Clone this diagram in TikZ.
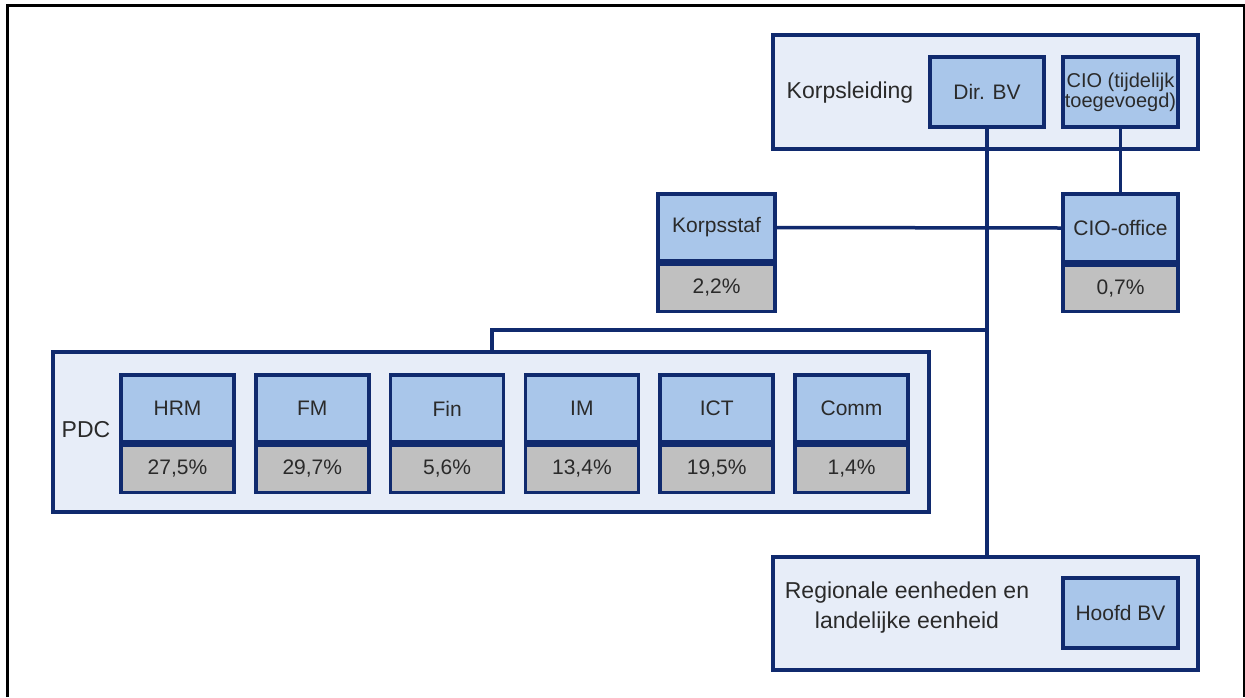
\documentclass[tikz,border=0pt]{standalone}
\usepackage{fontspec}
\setmainfont{Liberation Sans}
\definecolor{navy}{HTML}{102A6E}
\definecolor{lblue}{HTML}{A9C6EA}
\definecolor{pgray}{HTML}{C0C0C0}
\definecolor{cfill}{HTML}{E7EDF8}
\definecolor{txt}{HTML}{2A2A2A}
\tikzset{
  container/.style={draw=navy, line width=3.5pt, fill=cfill, inner sep=0pt},
  unitbox/.style={draw=navy, line width=3.5pt, fill=lblue, inner sep=0pt, text=txt, align=center,
    font=\fontsize{21}{22}\selectfont},
  pctbox/.style={draw=navy, line width=3.5pt, fill=pgray, inner sep=0pt, text=txt,
    font=\fontsize{21}{22}\selectfont},
  lbl/.style={text=txt, align=center, inner sep=0pt, font=\fontsize{23}{30}\selectfont},
  conn/.style={draw=navy, line width=3.5pt}
}
\begin{document}
\begin{tikzpicture}[x=1pt,y=-1pt]
\useasboundingbox[fill=white] (0,0) rectangle (1245,697);
\draw[black, line width=3pt] (7.5,697) -- (7.5,5.5) -- (1244,5.5) -- (1244,697);

% containers
\node[container, minimum width=425pt, minimum height=114pt] (kl) at (985.5,92) {};
\node[container, minimum width=876pt, minimum height=160pt] (pdc) at (491,432) {};
\node[container, minimum width=425pt, minimum height=113pt] (reg) at (985.5,613.5) {};

% connectors
\coordinate (j) at (987,330);
\coordinate (pdcin) at (492,352);
\draw[conn] (987,127) -- (987,557);
\draw[conn] (j) -| (pdcin);

% Korpsleiding
\node[lbl] (kltxt) at (850,93) {Korpsleiding};
\node[unitbox, minimum width=114pt, minimum height=70pt] (dirbv) at (987,92) {Dir. BV};
\node[unitbox, minimum width=115pt, minimum height=70pt, font=\fontsize{20}{20}\selectfont] (cio) at (1120.5,92) {CIO (tijdelijk\\toegevoegd)};

% staff units
\node[unitbox, minimum width=117pt, minimum height=67pt] (ks) at (716.5,227.5) {Korpsstaf};
\node[pctbox, minimum width=117pt, minimum height=47pt, anchor=north] (ksp) at (ks.south) {2,2\%};
\node[unitbox, minimum width=115pt, minimum height=68pt] (co) at (1120.5,228) {CIO-office};
\node[pctbox, minimum width=115pt, minimum height=46pt, anchor=north] (cop) at (co.south) {0,7\%};

\draw[conn] (cio.south) -- (co.north);
\draw[conn] (ks.east) -- (co.west);

% PDC
\node[lbl] (pdctxt) at (86,430) {PDC};
\foreach \n/\t/\p [count=\i from 0] in {hrm/HRM/{27,5\%}, fm/FM/{29,7\%}, fin/Fin/{5,6\%}, im/IM/{13,4\%}, ict/ICT/{19,5\%}, comm/Comm/{1,4\%}}{
  \pgfmathsetmacro{\cx}{177.5+134.8*\i}
  \node[unitbox, minimum width=113pt, minimum height=67pt] (\n) at (\cx,408.5) {\t};
  \node[pctbox, minimum width=113pt, minimum height=47pt, anchor=north] (\n p) at (\n.south) {\p};
}

% Regionale
\node[lbl] (regtxt) at (907,608) {Regionale eenheden en\\landelijke eenheid};
\node[unitbox, minimum width=115pt, minimum height=70pt] (hbv) at (1120.5,613) {Hoofd BV};
\end{tikzpicture}
\end{document}
